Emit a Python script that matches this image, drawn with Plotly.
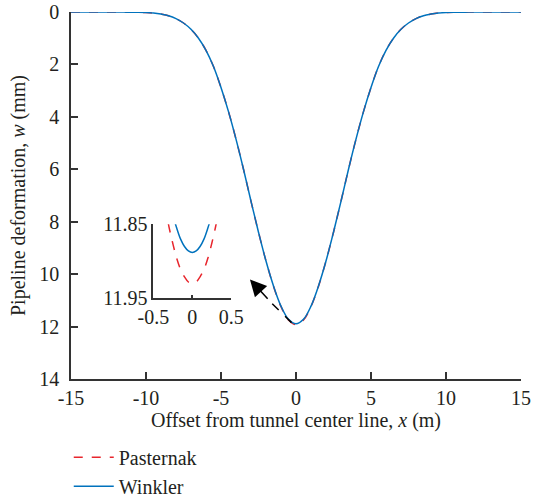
import plotly.graph_objects as go

# ---- data ----
offset_x = [-15, -14.5, -14, -13.5, -13, -12.5, -12, -11.5, -11, -10.5, -10,
            -9.5, -9, -8.5, -8, -7.5, -7, -6.5, -6, -5.5, -5, -4.5, -4, -3.5,
            -3, -2.5, -2, -1.5, -1, -0.5, 0, 0.5, 1, 1.5, 2, 2.5, 3, 3.5, 4,
            4.5, 5, 5.5, 6, 6.5, 7, 7.5, 8, 8.5, 9, 9.5, 10, 10.5, 11, 11.5,
            12, 12.5, 13, 13.5, 14, 14.5, 15]

winkler_w = [0, 0, 0, 0, 0, 0, 0, 0, 0.01, 0.01, 0.02, 0.04, 0.08, 0.14,
             0.25, 0.42, 0.66, 1.00, 1.46, 2.08, 2.88, 3.80, 4.85, 6.00, 7.22,
             8.40, 9.50, 10.45, 11.22, 11.72, 11.89, 11.72, 11.22, 10.45, 9.50,
             8.40, 7.22, 6.00, 4.85, 3.80, 2.88, 2.08, 1.46, 1.00, 0.66, 0.42,
             0.25, 0.14, 0.08, 0.04, 0.02, 0.01, 0.01, 0, 0, 0, 0, 0, 0, 0, 0]

pasternak_w = [0, 0, 0, 0, 0, 0, 0, 0, 0.01, 0.01, 0.02, 0.04, 0.08, 0.14,
               0.25, 0.42, 0.66, 1.00, 1.46, 2.08, 2.88, 3.80, 4.85, 6.00, 7.22,
               8.40, 9.50, 10.46, 11.24, 11.75, 11.93, 11.75, 11.24, 10.46, 9.50,
               8.40, 7.22, 6.00, 4.85, 3.80, 2.88, 2.08, 1.46, 1.00, 0.66, 0.42,
               0.25, 0.14, 0.08, 0.04, 0.02, 0.01, 0.01, 0, 0, 0, 0, 0, 0, 0, 0]

inset_x = [-0.35, -0.3, -0.25, -0.2, -0.15, -0.1, -0.05, 0, 0.05, 0.1, 0.15,
           0.2, 0.25, 0.3, 0.35]
inset_winkler = [11.788, 11.814, 11.837, 11.855, 11.870, 11.880, 11.886, 11.888,
                 11.886, 11.880, 11.870, 11.855, 11.837, 11.814, 11.788]
inset_pasternak = [11.825, 11.853, 11.876, 11.896, 11.911, 11.921, 11.928, 11.930,
                   11.928, 11.921, 11.911, 11.896, 11.876, 11.853, 11.825]

x_ticks = [-15, -10, -5, 0, 5, 10, 15]
x_tick_text = ["-15", "-10", "-5", "0", "5", "10", "15"]
y_ticks = [0, 2, 4, 6, 8, 10, 12, 14]
inset_x_ticks = [-0.5, 0, 0.5]
inset_x_text = ["-0.5", "0", "0.5"]
inset_y_ticks = [11.85, 11.95]
inset_y_text = ["11.85", "11.95"]

RED = "rgb(232,38,45)"
BLUE = "rgb(0,114,189)"
AXC = "#333333"
TXT = "#231f20"
FONT = "Liberation Serif"
FS = 20

fig = go.Figure()
fig.add_trace(go.Scatter(x=offset_x, y=pasternak_w, mode="lines", name="Pasternak",
                         line=dict(color=RED, width=1.5, dash="dash", shape="spline")))
fig.add_trace(go.Scatter(x=offset_x, y=winkler_w, mode="lines", name="Winkler",
                         line=dict(color=BLUE, width=1.5, shape="spline")))
fig.add_trace(go.Scatter(x=inset_x, y=inset_pasternak, mode="lines", showlegend=False,
                         xaxis="x2", yaxis="y2",
                         line=dict(color=RED, width=1.5, dash="dash", shape="spline")))
fig.add_trace(go.Scatter(x=inset_x, y=inset_winkler, mode="lines", showlegend=False,
                         xaxis="x2", yaxis="y2",
                         line=dict(color=BLUE, width=1.5, shape="spline")))

axis_common = dict(showgrid=False, zeroline=False, showline=True, linecolor=AXC,
                   linewidth=1.5, ticks="inside", tickcolor=AXC, tickwidth=1.5,
                   automargin=False,
                   tickfont=dict(family=FONT, size=FS, color=TXT))

fig.update_layout(
    width=533, height=500,
    margin=dict(l=71, r=12, t=12, b=121, autoexpand=False),
    paper_bgcolor="white", plot_bgcolor="white",
    font=dict(family=FONT, size=FS, color=TXT),
    xaxis=dict(range=[-15, 15], tickvals=x_ticks, ticktext=x_tick_text, ticklen=7,
               title=dict(text="Offset from tunnel center line, <i>x</i> (m)",
                          standoff=4, font=dict(family=FONT, size=FS, color=TXT)),
               **axis_common),
    yaxis=dict(range=[14, 0], tickvals=y_ticks, ticklen=7, ticklabelstandoff=6,
               title=dict(text="Pipeline deformation, <i>w</i> (mm)",
                          standoff=8, font=dict(family=FONT, size=FS, color=TXT)),
               **axis_common),
    xaxis2=dict(domain=[0.183, 0.356], anchor="y2", range=[-0.5, 0.5],
                tickvals=inset_x_ticks, ticktext=inset_x_text, ticklen=4,
                **axis_common),
    yaxis2=dict(domain=[0.22, 0.4215], anchor="x2", range=[11.95, 11.85],
                tickvals=inset_y_ticks, ticktext=inset_y_text, ticklen=4,
                **axis_common),
    legend=dict(x=-0.005, xanchor="left", y=-0.16, yanchor="top",
                font=dict(family=FONT, size=FS, color=TXT), bgcolor="rgba(0,0,0,0)",
                tracegroupgap=0, itemwidth=40),
    showlegend=True,
)

# dashed arrow pointing from the curve bottom to the inset
fig.add_shape(type="line", xref="x", yref="y", x0=-0.3, y0=11.85, x1=-1.9, y1=10.95,
              line=dict(color="black", width=1.5, dash="dash"))
fig.add_annotation(x=-3.07, y=10.2, ax=-1.8, ay=11.0, xref="x", yref="y",
                   axref="x", ayref="y", text="", showarrow=True, arrowhead=2,
                   arrowsize=2.2, arrowwidth=1.5, arrowcolor="black")

fig.write_html("out.html")
